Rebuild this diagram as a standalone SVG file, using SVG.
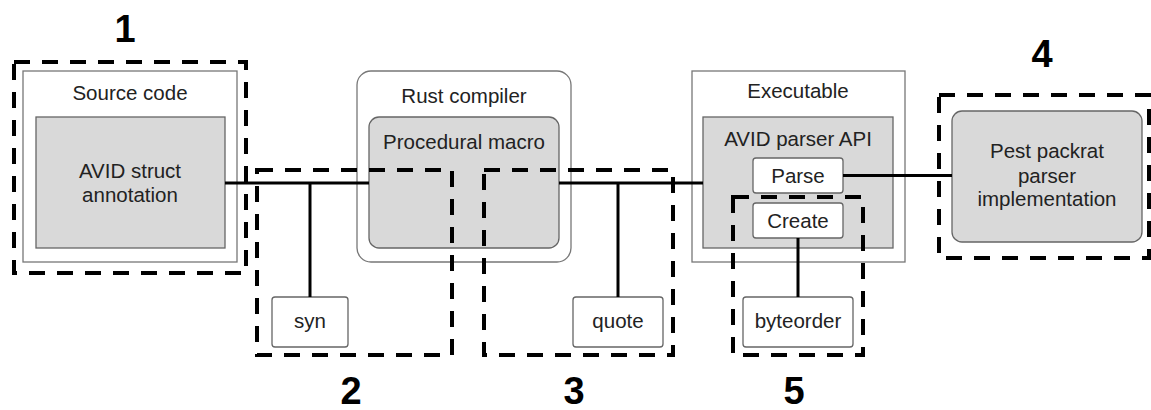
<svg xmlns="http://www.w3.org/2000/svg" width="1151" height="410" viewBox="0 0 1151 410">
<style>
text{font-family:"Liberation Sans",Arial,sans-serif;fill:#222;text-anchor:middle}
.t{font-size:20.5px}
.num{font-size:38px;font-weight:bold;fill:#000}
.outer{fill:#fff;stroke:#777;stroke-width:1.3}
.inner{fill:#d9d9d9;stroke:#666;stroke-width:1.3}
.lib{fill:#fff;stroke:#666;stroke-width:1.3}
.dash{fill:none;stroke:#000;stroke-width:4;stroke-dasharray:16 12}
.conn{stroke:#000;stroke-width:3;fill:none}
</style>
<rect width="1151" height="410" fill="#fff"/>
<g id="source-code">
<rect class="outer" x="23" y="71" width="214" height="191"/>
<text class="t" x="130" y="100">Source code</text>
</g>
<g id="avid-struct">
<rect class="inner" x="36" y="117" width="189" height="131"/>
<text class="t" x="130" y="178">AVID struct</text>
<text class="t" x="130" y="202">annotation</text>
</g>
<g id="rust-compiler">
<rect class="outer" x="357" y="71" width="214" height="191" rx="14"/>
<text class="t" x="464" y="103">Rust compiler</text>
</g>
<g id="procedural-macro">
<rect class="inner" x="369" y="117" width="190" height="131" rx="10"/>
<text class="t" x="464" y="149">Procedural macro</text>
</g>
<g id="executable">
<rect class="outer" x="692" y="71" width="213" height="191"/>
<text class="t" x="798" y="98">Executable</text>
</g>
<g id="avid-parser-api">
<rect class="inner" x="703" y="117" width="190" height="131"/>
<text class="t" x="798" y="146">AVID parser API</text>
</g>
<g id="parse">
<rect class="lib" x="753" y="158" width="90" height="35" rx="3"/>
<text class="t" x="798" y="183">Parse</text>
</g>
<g id="create">
<rect class="lib" x="753" y="203" width="90" height="35" rx="3"/>
<text class="t" x="798" y="228">Create</text>
</g>
<g id="pest">
<rect class="inner" x="952" y="111" width="190" height="131" rx="10"/>
<text class="t" x="1047" y="158">Pest packrat</text>
<text class="t" x="1047" y="183">parser</text>
<text class="t" x="1047" y="206">implementation</text>
</g>
<g id="syn">
<rect class="lib" x="272" y="297" width="76" height="50" rx="3"/>
<text class="t" x="310" y="328">syn</text>
</g>
<g id="quote">
<rect class="lib" x="573" y="297" width="90" height="50" rx="3"/>
<text class="t" x="618" y="328">quote</text>
</g>
<g id="byteorder">
<rect class="lib" x="743" y="297" width="110" height="50" rx="3"/>
<text class="t" x="798" y="328">byteorder</text>
</g>
<g id="connectors">
<line class="conn" x1="225" y1="183" x2="369" y2="183"/>
<line class="conn" x1="310" y1="183" x2="310" y2="297"/>
<line class="conn" x1="559" y1="183" x2="703" y2="183"/>
<line class="conn" x1="618" y1="183" x2="618" y2="297"/>
<line class="conn" x1="843" y1="175.5" x2="952" y2="175.5"/>
<line class="conn" x1="798" y1="238" x2="798" y2="297"/>
</g>
<g id="group-1">
<rect class="dash" x="14" y="62" width="232" height="211"/>
<text class="num" x="125" y="42">1</text>
</g>
<g id="group-2">
<rect class="dash" x="257" y="170" width="195" height="185"/>
<text class="num" x="351" y="404">2</text>
</g>
<g id="group-3">
<rect class="dash" x="484" y="170" width="189" height="185"/>
<text class="num" x="574" y="404">3</text>
</g>
<g id="group-4">
<rect class="dash" x="939" y="95" width="210" height="163"/>
<text class="num" x="1042" y="67">4</text>
</g>
<g id="group-5">
<rect class="dash" x="733" y="197" width="130" height="158"/>
<text class="num" x="794" y="404">5</text>
</g>
</svg>
